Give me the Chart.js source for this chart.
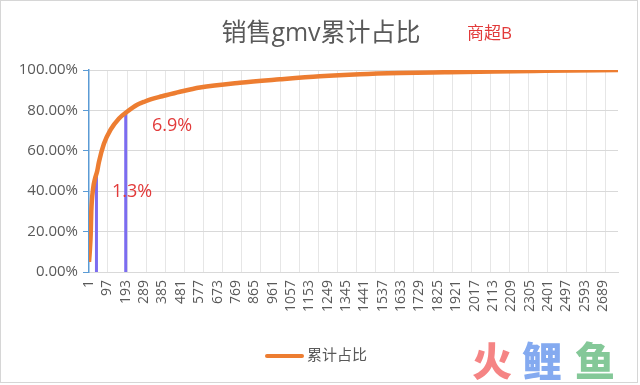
<!DOCTYPE html>
<html>
<head>
<meta charset="utf-8">
<script src="https://cdn.jsdelivr.net/npm/chart.js@4.4.1/dist/chart.umd.min.js"></script>
<style>
html,body{margin:0;padding:0;background:#fff;}
canvas{display:block;}
</style>
</head>
<body>
<canvas id="c" width="640" height="385"></canvas>
<script>
// ---- data ----
const titleText = '销售gmv累计占比';
const tagText = '商超B';
const seriesLabel = '累计占比';
// rank of item (category index) and cumulative GMV share (%)
const curveX = [1, 5, 10, 13, 22, 32, 44, 53, 79, 114, 158, 198, 253, 288, 323, 384, 477, 581, 790, 999, 1208, 1417, 1627, 1862, 2123, 2385, 2767];
const curveY = [5, 10, 19, 30, 41, 46, 50, 54.5, 63.5, 70.5, 76, 79.2, 82.8, 84.2, 85.5, 87, 89.2, 91.3, 93.7, 95.4, 96.9, 97.9, 98.5, 98.9, 99.3, 99.6, 100];
// marker lines (rank, share %) and their labels
const markX = [40, 193];
const markY = [49, 79];
const markText = ['1.3%', '6.9%'];
const markTextX = [121, 330];
const markTextY = [39.6, 72.3];
// axis ticks
const xTickLabels = [1, 97, 193, 289, 385, 481, 577, 673, 769, 865, 961, 1057, 1153, 1249, 1345, 1441, 1537, 1633, 1729, 1825, 1921, 2017, 2113, 2209, 2305, 2401, 2497, 2593, 2689];
const xGridVals = [100, 200, 300, 400, 500, 600, 700, 800, 900, 1000, 1100, 1200, 1300, 1400, 1500, 1600, 1700, 1800, 1900, 2000, 2100, 2200, 2300, 2400, 2500, 2600, 2700];
const xMin = 1, xMax = 2767;
const watermark = ['火', '鲤', '鱼'];

const FONT = '"Open Sans", "Noto Sans CJK SC", sans-serif';
const GRAY = '#595959';
const RED = '#E23A3A';
const ORANGE = '#ED7D31';
const PURPLE = '#7B6CF0';

const deco = {
  id: 'deco',
  afterDatasetsDraw(chart) {
    const ctx = chart.ctx, xs = chart.scales.x, ys = chart.scales.y;
    ctx.save();
    ctx.fillStyle = RED;
    ctx.font = '18px ' + FONT;
    ctx.textAlign = 'left';
    ctx.textBaseline = 'middle';
    markText.forEach((t, i) => {
      ctx.fillText(t, xs.getPixelForValue(markTextX[i]), ys.getPixelForValue(markTextY[i]));
    });
    ctx.restore();
  },
  afterDraw(chart) {
    const ctx = chart.ctx;
    ctx.save();
    // title
    ctx.fillStyle = GRAY;
    ctx.font = '25px ' + FONT;
    ctx.textAlign = 'center';
    ctx.textBaseline = 'middle';
    ctx.fillText(titleText, 321, 34);
    ctx.fillStyle = RED;
    ctx.font = '17px ' + FONT;
    ctx.textAlign = 'left';
    ctx.fillText(tagText, 467, 34);
    // legend
    const ds = chart.data.datasets[0];
    ctx.strokeStyle = ds.borderColor;
    ctx.lineWidth = 4;
    ctx.lineCap = 'round';
    ctx.beginPath();
    ctx.moveTo(267, 356);
    ctx.lineTo(302, 356);
    ctx.stroke();
    ctx.fillStyle = GRAY;
    ctx.font = '15px ' + FONT;
    ctx.fillText(ds.label, 307, 356);
    // watermark
    const wmColors = ['#F58484', '#84AAF0', '#84C898'];
    const wmX = [492, 542, 595];
    ctx.font = '900 40px "Noto Sans CJK SC", sans-serif';
    ctx.textAlign = 'center';
    watermark.forEach((w, i) => {
      ctx.fillStyle = wmColors[i];
      ctx.fillText(w, wmX[i], 361);
    });
    // frame
    ctx.strokeStyle = '#d6d6d6';
    ctx.lineWidth = 1;
    ctx.strokeRect(0.5, 0.5, 637, 382);
    ctx.restore();
  }
};

new Chart(document.getElementById('c'), {
  type: 'line',
  data: {
    datasets: [
      {
        label: seriesLabel,
        data: curveX.map((x, i) => ({x: x, y: curveY[i]})),
        borderColor: ORANGE,
        backgroundColor: ORANGE,
        borderWidth: 4.5,
        pointRadius: 0,
        cubicInterpolationMode: 'monotone',
        xAxisID: 'x'
      },
      {
        label: 'm1',
        data: [{x: markX[0], y: 0}, {x: markX[0], y: markY[0]}],
        borderColor: PURPLE,
        borderWidth: 3,
        pointRadius: 0,
        xAxisID: 'x'
      },
      {
        label: 'm2',
        data: [{x: markX[1], y: 0}, {x: markX[1], y: markY[1]}],
        borderColor: PURPLE,
        borderWidth: 3,
        pointRadius: 0,
        xAxisID: 'x'
      }
    ]
  },
  options: {
    responsive: false,
    animation: false,
    devicePixelRatio: 1,
    layout: {padding: {left: 0, top: 70, right: 22, bottom: 0}},
    plugins: {legend: {display: false}, title: {display: false}, tooltip: {enabled: false}},
    scales: {
      x: {
        type: 'linear',
        position: 'bottom',
        min: xMin, max: xMax,
        afterBuildTicks: s => { s.ticks = xTickLabels.map(v => ({value: v})); },
        afterFit: s => { s.height = 113; },
        ticks: {
          autoSkip: false, maxRotation: 90, minRotation: 90,
          font: {family: FONT, size: 14}, color: GRAY, padding: 8,
          callback: v => String(v)
        },
        grid: {display: true, drawOnChartArea: false, drawTicks: false, color: 'rgba(0,0,0,0)'},
        border: {display: true, color: '#d9d9d9', width: 1}
      },
      xg: {
        type: 'linear',
        position: 'bottom',
        min: xMin, max: xMax,
        afterBuildTicks: s => { s.ticks = xGridVals.map(v => ({value: v})); },
        afterFit: s => { s.height = 0; },
        ticks: {display: false},
        grid: {color: '#e6e6e6', drawTicks: false},
        border: {display: false}
      },
      y: {
        min: 0, max: 100,
        afterFit: s => { s.width = 89; },
        ticks: {
          stepSize: 20,
          font: {family: FONT, size: 15}, color: GRAY, padding: 5,
          callback: v => v.toFixed(2) + '%'
        },
        grid: {color: '#d9d9d9', tickLength: 6, tickColor: '#5B9BD5'},
        border: {color: '#5B9BD5', width: 1.5}
      }
    }
  },
  plugins: [deco]
});
</script>
</body>
</html>
